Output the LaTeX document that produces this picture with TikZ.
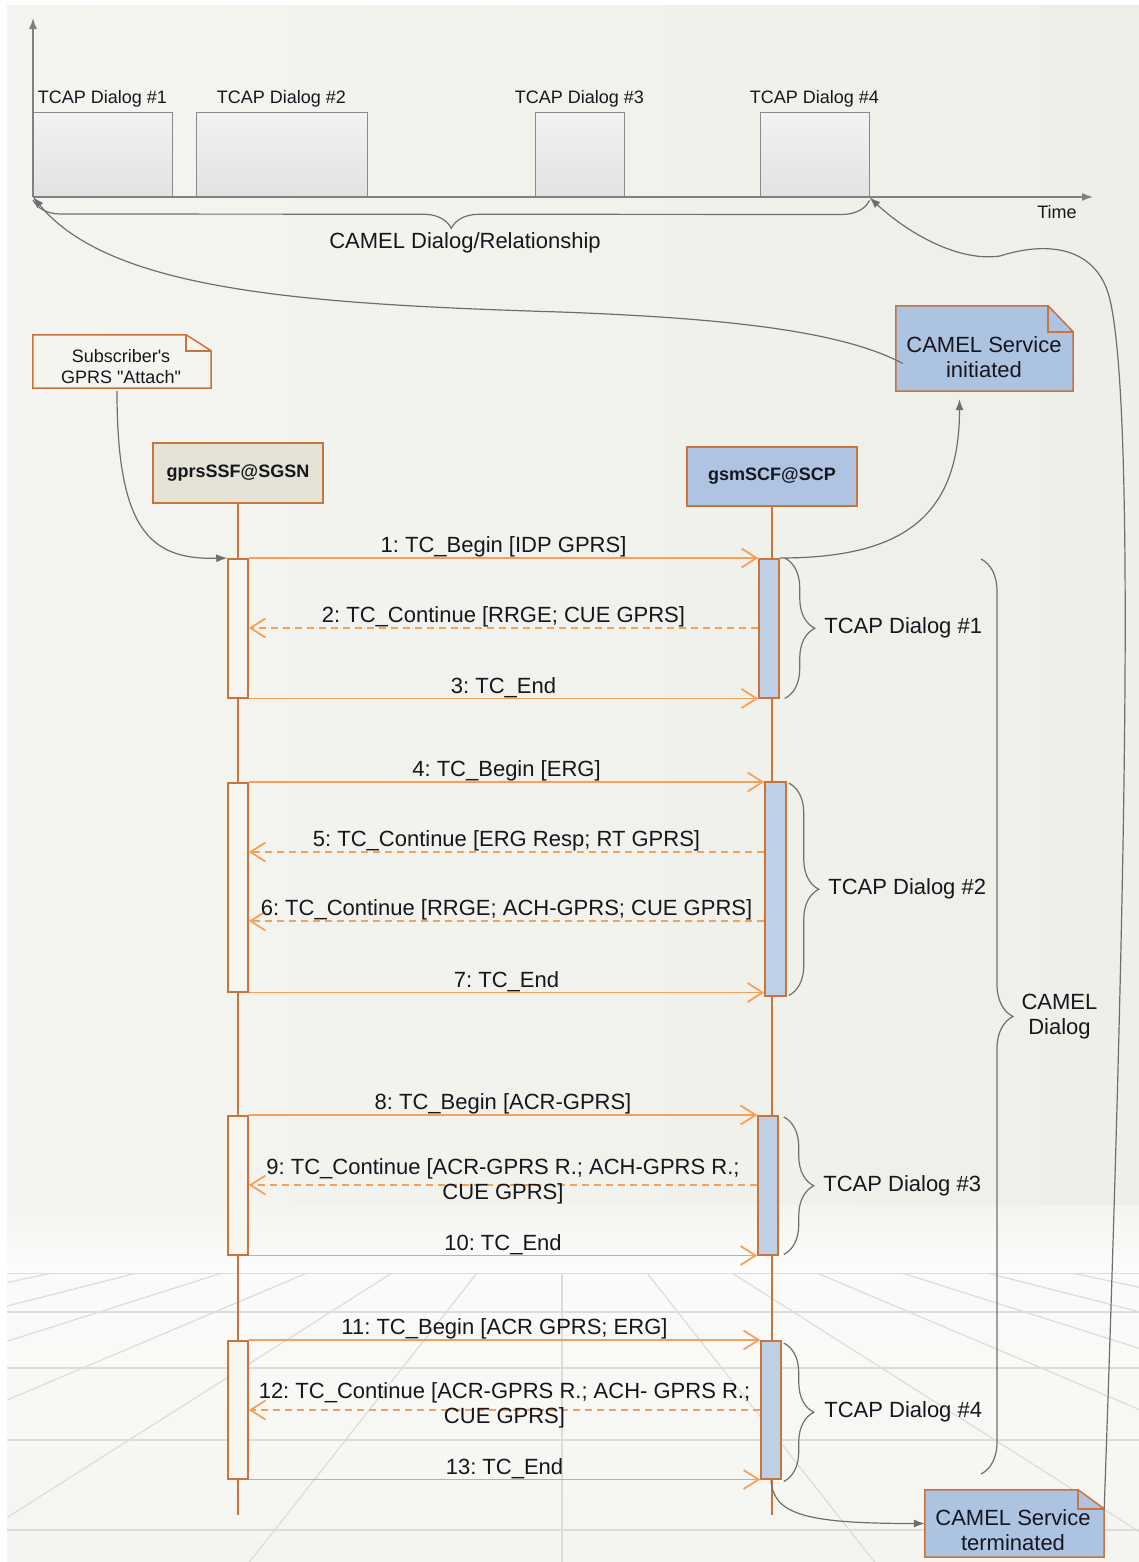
\documentclass[tikz,border=0pt]{standalone}
\usepackage{fontspec}
\newfontfamily\uifont{Liberation Sans}
\usetikzlibrary{arrows.meta,decorations.pathreplacing}
\pgfdeclarelayer{back}
\pgfsetlayers{back,main}
\frenchspacing

\definecolor{panelL}{HTML}{F4F5F0}
\definecolor{panelR}{HTML}{EEEFE8}
\definecolor{gridc}{HTML}{DCDCDA}
\definecolor{lifeline}{HTML}{C8743A}
\definecolor{msgc}{HTML}{F5A15C}
\definecolor{ssffill}{HTML}{E4E3D5}
\definecolor{scpfill}{HTML}{AFC4E2}
\definecolor{actR}{HTML}{BFCFE6}
\definecolor{actL}{HTML}{F8F6F1}
\definecolor{notefill}{HTML}{F6F4EF}
\definecolor{bluenote}{HTML}{ADC3E2}
\definecolor{linkgray}{HTML}{6E6E6E}
\definecolor{bracegray}{HTML}{707070}
\definecolor{axisgray}{HTML}{808080}
\definecolor{ink}{HTML}{16161F}
\definecolor{tltop}{HTML}{F2F2F2}
\definecolor{tlbot}{HTML}{E2E2E2}
\definecolor{tlborder}{HTML}{8A8A8A}

\newcommand\fmsg{\uifont\fontsize{22}{25}\selectfont}
\newcommand\fsmall{\uifont\fontsize{18}{21}\selectfont}

% note outline with a folded top-right corner, drawn behind the node's text
\newcommand\drawnote[4]{%
  \begin{pgfonlayer}{back}
    \draw[draw=lifeline, line width=1.5pt, fill=#4]
      (#1.south west) -- (#1.north west) -- ([xshift=-#2]#1.north east)
      -- ([yshift=-#3]#1.north east) -- (#1.south east) -- cycle;
    \draw[draw=lifeline, line width=1.5pt]
      ([xshift=-#2]#1.north east) |- ([yshift=-#3]#1.north east);
  \end{pgfonlayer}}

\begin{document}
\begin{tikzpicture}[x=1pt,y=1pt,
  every node/.style={text=ink},
  tlbox/.style={draw=tlborder, line width=1pt, top color=tltop, bottom color=tlbot,
    minimum height=84pt, inner sep=0pt},
  tllabel/.style={font=\fsmall, inner sep=0pt, anchor=south},
  axisline/.style={draw=axisgray, line width=1.3pt, -{Latex[length=11pt,width=8pt]}},
  brc/.style={draw=bracegray, line width=1.2pt, decorate, decoration={brace, amplitude=#1}},
  brc/.default=30pt,
  head/.style={draw=lifeline, line width=1.6pt, minimum width=170pt, inner sep=0pt,
    font=\uifont\bfseries\fontsize{18}{21}\selectfont},
  life/.style={draw=lifeline, line width=1.5pt},
  act/.style={draw=lifeline, line width=1.5pt, inner sep=0pt, anchor=north, minimum width=20pt},
  actl/.style={act, fill=actL},
  actr/.style={act, fill=actR},
  call/.style={draw=msgc, line width=1.8pt, -{Straight Barb[length=15pt,width=19pt]}},
  reply/.style={call, dash pattern=on 7pt off 5pt},
  msglbl/.style={font=\fmsg, inner sep=0pt, text depth=4.5pt, midway, above},
  msglbltwo/.style={font=\fmsg, inner sep=0pt, midway, align=center},
  bracelbl/.style={font=\fmsg, inner sep=0pt, anchor=west, midway},
  notebase/.style={inner sep=0pt},
  notetext/.style={font=\fmsg, align=center, inner sep=0pt},
  link/.style={draw=linkgray, line width=1.2pt, -{Latex[length=11pt,width=8pt]}},
]
\useasboundingbox (0,0) rectangle (1139,-1562);

% ---------- backdrop: panel and perspective floor ----------
\begin{pgfonlayer}{back}
  \fill[white] (0,0) rectangle (1139,-1562);
  \shade[left color=panelL, right color=panelR] (7,-6) rectangle (1139,-1562);
  \shade[top color=panelL, bottom color=white!75!panelL] (7,-1205) rectangle (1139,-1273);
  \shade[top color=white!60!panelL, bottom color=panelL] (7,-1273) rectangle (1139,-1562);
  \begin{scope}
    \clip (7,-1273) rectangle (1139,-1562);
    \foreach \k in {-7,...,7}
      \draw[gridc, line width=1.2pt] (562+85*\k,-1273) -- (562+312.5*\k,-1562);
    \foreach \y in {1273,1312,1368,1440,1530}
      \draw[gridc, line width=1.3pt] (7,-\y) -- (1139,-\y);
  \end{scope}
\end{pgfonlayer}

% ---------- timeline of the TCAP dialogs ----------
\coordinate (origin) at (33,-197);
\coordinate (ytip) at (33,-18);
\coordinate (xtip) at (1093,-197);

\node[tlbox, minimum width=139pt] (tb1) at (102.5,-155) {};
\node[tlbox, minimum width=171pt] (tb2) at (281.5,-155) {};
\node[tlbox, minimum width=89pt]  (tb3) at (579.5,-155) {};
\node[tlbox, minimum width=109pt] (tb4) at (814.5,-155) {};
\node[tllabel] (tl1) at ([yshift=5pt]tb1.north) {TCAP Dialog \#1};
\node[tllabel] (tl2) at ([yshift=5pt]tb2.north) {TCAP Dialog \#2};
\node[tllabel] (tl3) at ([yshift=5pt]tb3.north) {TCAP Dialog \#3};
\node[tllabel] (tl4) at ([yshift=5pt]tb4.north) {TCAP Dialog \#4};

\draw[axisline] (origin) -- (ytip);
\draw[axisline] (origin) -- (xtip);
\node[font=\fsmall, inner sep=0pt] (timelbl) at (1057,-212) {Time};

\draw[brc=28pt] ([yshift=-3pt]tb4.south east) -- ([yshift=-3pt]origin);
\node[font=\fmsg, inner sep=0pt] (rellbl) at (465,-243) {CAMEL Dialog/Relationship};

% ---------- lifelines ----------
\node[head, fill=ssffill, minimum height=60pt] (ssf) at (238,-473) {gprsSSF@SGSN};
\node[head, fill=scpfill, minimum height=59pt] (scp) at (772,-476.5) {gsmSCF@SCP};
\coordinate (ssfEnd) at (238,-1515);
\coordinate (scpEnd) at (772,-1515);
\draw[life] (ssf.south) -- (ssfEnd);
\draw[life] (scp.south) -- (scpEnd);

% activation bars
\node[actl, minimum height=139pt] (L1) at (238,-558) {};
\node[actl, minimum height=209pt] (L2) at (238,-782) {};
\node[actl, minimum height=139pt] (L3) at (238,-1115) {};
\node[actl, minimum height=138pt] (L4) at (238,-1340) {};
\node[actr, minimum height=139pt] (R1) at (769,-558) {};
\node[actr, minimum height=214pt, minimum width=21pt] (R2) at (775.5,-781) {};
\node[actr, minimum height=139pt] (R3) at (768,-1115) {};
\node[actr, minimum height=138pt] (R4) at (771,-1340) {};

% ---------- messages ----------
\draw[call] (L1.north east) -- (R1.north west) node[msglbl] (m1) {1: TC\_Begin [IDP GPRS]};
\draw[reply] (R1.west |- 0,-628) -- (L1.east |- 0,-628) node[msglbl] (m2) {2: TC\_Continue [RRGE; CUE GPRS]};
\draw[call] (L1.south east) -- (R1.south west) node[msglbl] (m3) {3: TC\_End};

\draw[call] (L2.north east) -- (R2.west |- L2.north east) node[msglbl] (m4) {4: TC\_Begin [ERG]};
\draw[reply] (R2.west |- 0,-852) -- (L2.east |- 0,-852) node[msglbl] (m5) {5: TC\_Continue [ERG Resp; RT GPRS]};
\draw[reply] (R2.west |- 0,-921) -- (L2.east |- 0,-921) node[msglbl] (m6) {6: TC\_Continue [RRGE; ACH-GPRS; CUE GPRS]};
\draw[call] (L2.south east) -- (R2.west |- L2.south east) node[msglbl] (m7) {7: TC\_End};

\draw[call] (L3.north east) -- (R3.north west) node[msglbl] (m8) {8: TC\_Begin [ACR-GPRS]};
\draw[reply] (R3.west |- 0,-1185) -- (L3.east |- 0,-1185)
  node[msglbltwo, yshift=3.5pt] (m9) {9: TC\_Continue [ACR-GPRS R.; ACH-GPRS R.;\\CUE GPRS]};
\draw[call] (L3.south east) -- (R3.south west) node[msglbl] (m10) {10: TC\_End};

\draw[call] (L4.north east) -- (R4.north west) node[msglbl] (m11) {11: TC\_Begin [ACR GPRS; ERG]};
\draw[reply] (R4.west |- 0,-1410) -- (L4.east |- 0,-1410)
  node[msglbltwo, yshift=5pt] (m12) {12: TC\_Continue [ACR-GPRS R.; ACH- GPRS R.;\\CUE GPRS]};
\draw[call] (L4.south east) -- (R4.south west) node[msglbl] (m13) {13: TC\_End};

% ---------- dialog braces ----------
\draw[brc=30pt] ([xshift=5pt]R1.north east) -- ([xshift=5pt]R1.south east)
  node[bracelbl, xshift=39pt] (d1) {TCAP Dialog \#1};
\draw[brc=30pt] ([xshift=2pt,yshift=-2pt]R2.north east) -- ([xshift=2pt,yshift=1pt]R2.south east)
  node[bracelbl, xshift=39pt] (d2) {TCAP Dialog \#2};
\draw[brc=30pt] ([xshift=5pt,yshift=-2pt]R3.north east) -- ([xshift=5pt,yshift=1pt]R3.south east)
  node[bracelbl, xshift=39pt] (d3) {TCAP Dialog \#3};
\draw[brc=30pt] ([xshift=2pt,yshift=-3pt]R4.north east) -- ([xshift=2pt,yshift=-2pt]R4.south east)
  node[bracelbl, xshift=40pt] (d4) {TCAP Dialog \#4};

\coordinate (cdTop) at (981,-559);
\coordinate (cdBot) at (981,-1474);
\draw[brc=32pt] (cdTop) -- (cdBot)
  node[bracelbl, align=center, xshift=40pt] (cd) {CAMEL\\Dialog};

% ---------- notes ----------
\node[notebase, minimum width=178pt, minimum height=53pt] (sub) at (122,-361.5) {};
\drawnote{sub}{25pt}{16pt}{notefill}
\node[font=\fsmall, align=center, inner sep=0pt] (subtxt) at (121,-367) {Subscriber's\\GPRS "Attach"};

\node[notebase, minimum width=177pt, minimum height=85pt] (init) at (984.5,-348.5) {};
\drawnote{init}{25pt}{26pt}{bluenote}
\node[notetext] (inittxt) at (984,-357.5) {CAMEL Service\\initiated};

\node[notebase, minimum width=179pt, minimum height=67pt] (term) at (1014.5,-1523.5) {};
\drawnote{term}{26pt}{19pt}{bluenote}
\node[notetext] (termtxt) at (1013,-1530) {CAMEL Service\\terminated};

% ---------- event links ----------
\draw[link] ([xshift=-5pt,yshift=-3pt]sub.south) .. controls (117,-530) and (150,-560) .. (L1.north west);
\draw[link] (R1.north east) .. controls +(120,0) and +(0,-120) .. ([xshift=-25pt,yshift=-8pt]init.south);
\draw[link] ([xshift=7pt,yshift=-15pt]init.west) .. controls (840,-330) and (720,-318) .. (560,-312)
  .. controls (300,-304) and (110,-290) .. (origin);
\draw[link] (R4.south) .. controls +(2,-35) and +(-120,0) .. (term.west);
\draw[link] ([yshift=-19pt]term.north east) .. controls (1122,-1000) and (1138,-420) .. (1110,-300)
  .. controls (1098,-248) and (1050,-240) .. (1000,-256)
  .. controls (960,-262) and (910,-235) .. (tb4.south east);

\end{tikzpicture}
\end{document}
